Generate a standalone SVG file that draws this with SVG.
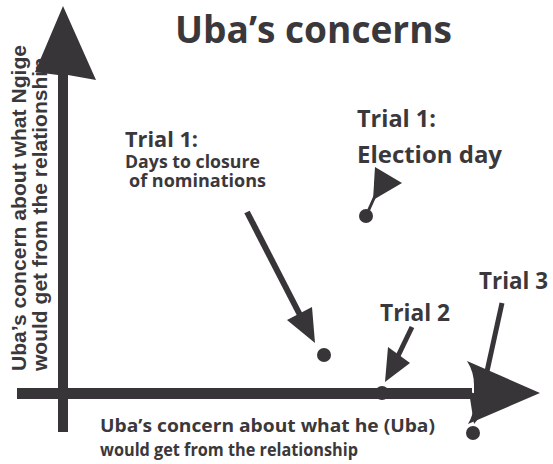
<svg xmlns="http://www.w3.org/2000/svg" width="553" height="464" viewBox="0 0 553 464">
<style>
.t{font-family:"Open Sans","Noto Sans","Liberation Sans",sans-serif;font-weight:bold;fill:#3a383b}
.ax{font-family:"Liberation Sans",Arial,sans-serif;font-weight:bold;font-size:21px;fill:#3a383b}
.ink{fill:#383538}
.stem{stroke:#383538;fill:none;stroke-linecap:butt}
</style>
<rect width="553" height="464" fill="#ffffff"/>
<g id="title"><text class="t" x="175" y="43" font-size="38" textLength="277" lengthAdjust="spacingAndGlyphs">Uba’s concerns</text></g>
<g id="y-axis-label">
<text class="ax" transform="translate(26,371) rotate(-90)" textLength="326" lengthAdjust="spacingAndGlyphs">Uba’s concern about what Ngige</text>
<text class="ax" transform="translate(47,371) rotate(-90)" textLength="313" lengthAdjust="spacingAndGlyphs">would get from the relationship</text>
</g>
<g id="x-axis-label">
<text class="t" x="100" y="432" font-size="18.5" textLength="335" lengthAdjust="spacingAndGlyphs">Uba’s concern about what he (Uba)</text>
<text class="t" x="100" y="456" font-size="18.5" textLength="258" lengthAdjust="spacingAndGlyphs">would get from the relationship</text>
</g>
<g id="axes">
<rect class="ink" x="58" y="70" width="10" height="362"/>
<polygon class="ink" points="63,6 96,80 68,75 58,75 35,72"/>
<rect class="ink" x="17" y="388" width="455" height="11"/>
<path class="ink" d="M540,393 L467,361 Q474,372 474,385 L474,402 Q474,414 468,424 Z"/>
</g>
<g id="trial1-nominations">
<text class="t" x="125" y="147" font-size="22" textLength="73" lengthAdjust="spacingAndGlyphs">Trial 1:</text>
<text class="t" x="125" y="168" font-size="17" textLength="135" lengthAdjust="spacingAndGlyphs">Days to closure</text>
<text class="t" x="129" y="187" font-size="17" textLength="137" lengthAdjust="spacingAndGlyphs">of nominations</text>
<circle class="ink" cx="324" cy="355" r="7"/>
</g>
<g id="trial1-election">
<text class="t" x="357" y="127" font-size="24" textLength="79" lengthAdjust="spacingAndGlyphs">Trial 1:</text>
<text class="t" x="357" y="163" font-size="24" textLength="145" lengthAdjust="spacingAndGlyphs">Election day</text>
<circle class="ink" cx="366" cy="216" r="7"/>
</g>
<g id="trial2">
<text class="t" x="380" y="321" font-size="23.5" textLength="70" lengthAdjust="spacingAndGlyphs">Trial 2</text>
<circle class="ink" cx="382" cy="393" r="7"/>
</g>
<g id="trial3">
<text class="t" x="479" y="289" font-size="23.5" textLength="69" lengthAdjust="spacingAndGlyphs">Trial 3</text>
<circle class="ink" cx="473" cy="433" r="7"/>
</g>
<g id="connectors">
<line class="stem" x1="247" y1="212" x2="300" y2="315" stroke-width="6"/>
<polygon class="ink" points="315,343 287,320 312,307"/>
<line class="stem" x1="366" y1="216" x2="375" y2="196" stroke-width="3"/>
<polygon class="ink" points="375,167 402,183 373,200"/>
<line class="stem" x1="412" y1="327" x2="398" y2="356" stroke-width="5"/>
<polygon class="ink" points="385,382 388,347 410,363"/>
<line class="stem" x1="502" y1="303" x2="484" y2="385" stroke-width="5"/>
<polygon class="ink" points="474,424 469,392 495,398"/>
</g>
</svg>
